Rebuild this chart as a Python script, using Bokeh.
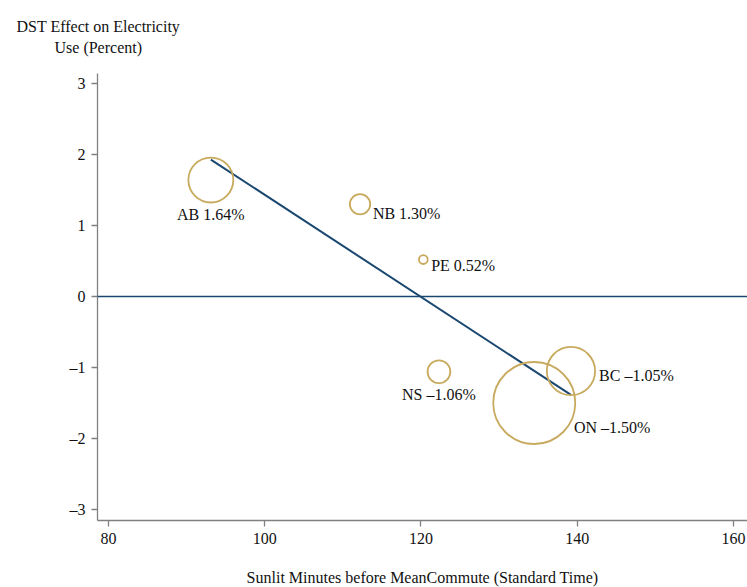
import numpy as np
from bokeh.plotting import figure
from bokeh.models import Range1d, Title, FixedTicker, ColumnDataSource, Span
from bokeh.core.properties import value
from bokeh.embed import file_html
from bokeh.resources import INLINE

# ---- data ----
provinces = ["AB", "NB", "PE", "NS", "BC", "ON"]
sunlit_minutes = [93.1, 112.2, 120.3, 122.3, 139.2, 134.5]
dst_effect = [1.64, 1.30, 0.52, -1.06, -1.05, -1.50]
weights = [3.9, 0.8, 0.15, 1.0, 4.5, 13.0]
label_clock = [6, 4, 4, 6, 3, 4]
x_ticks = [80, 100, 120, 140, 160]
y_ticks = [-3, -2, -1, 0, 1, 2, 3]

FONT = "Liberation Serif"
GOLD = "#c8aa5e"
NAVY = "#1a476f"
AXIS = "#808080"
TXT = "#111111"

w = np.array(weights)
radius_px = 41.0 * np.sqrt(w / w.max())
labels = [f"{p} {v:.2f}%".replace("-", "\u2013") for p, v in zip(provinces, dst_effect)]

dx, dy, align, base = [], [], [], []
for r, c in zip(radius_px, label_clock):
    if c == 6:
        dx.append(0); dy.append(r + 3); align.append("center"); base.append("top")
    elif c == 3:
        dx.append(r + 4); dy.append(4); align.append("left"); base.append("middle")
    else:
        dx.append(r * 0.87 + 4); dy.append(r * 0.5 + 4); align.append("left"); base.append("middle")

src = ColumnDataSource(dict(x=sunlit_minutes, y=dst_effect, size=2 * radius_px,
                            label=labels, dx=dx, dy=dy, align=align, base=base))

p = figure(frame_width=650, frame_height=447, output_backend="svg", toolbar_location=None,
           x_range=Range1d(78.59, 161.8), y_range=Range1d(-3.155, 3.141),
           min_border_left=97, min_border_right=0, min_border_top=73, min_border_bottom=67)
p.background_fill_color = "white"
p.border_fill_color = "white"
p.outline_line_color = None
p.xgrid.visible = False
p.ygrid.visible = False

# zero line
p.add_layout(Span(location=0, dimension="width", line_color=NAVY, line_width=1.6))

# fitted line (OLS on the points)
b, a = np.polyfit(sunlit_minutes, dst_effect, 1)
xs = np.array([min(sunlit_minutes), max(sunlit_minutes)])
p.line(xs, a + b * xs, line_color=NAVY, line_width=2)

p.scatter("x", "y", size="size", source=src, marker="circle", fill_color=None,
          line_color=GOLD, line_width=1.8)

p.text("x", "y", text="label", source=src, x_offset="dx", y_offset="dy",
       text_align="align", text_baseline="base", text_font=value(FONT),
       text_font_size="16px", text_color=TXT)

for ax in (p.xaxis[0], p.yaxis[0]):
    ax.axis_line_color = AXIS
    ax.axis_line_width = 1.3
    ax.major_tick_line_color = AXIS
    ax.major_tick_line_width = 1.3
    ax.major_tick_out = 6
    ax.major_tick_in = 0
    ax.minor_tick_line_color = None
    ax.major_label_text_font = FONT
    ax.major_label_text_font_size = "16px"
    ax.major_label_text_color = TXT
    ax.major_label_standoff = 6

p.xaxis.ticker = FixedTicker(ticks=x_ticks)
p.yaxis.ticker = FixedTicker(ticks=y_ticks)
p.yaxis.major_label_overrides = {t: str(t).replace("-", "\u2013") for t in y_ticks}
p.yaxis.major_label_orientation = "horizontal"

p.xaxis.axis_label = "Sunlit Minutes before MeanCommute (Standard Time)"
p.xaxis.axis_label_text_font = FONT
p.xaxis.axis_label_text_font_size = "16px"
p.xaxis.axis_label_text_font_style = "normal"
p.xaxis.axis_label_text_color = TXT
p.xaxis.axis_label_standoff = 22

# white (unseen) spacer between the frame and the two-line title
p.add_layout(Title(text=".", standoff=3, text_font=FONT, text_font_size="16px",
                   text_color="white"), "above")

# two-line horizontal y-axis title at the top left (later titles sit further up)
for txt, off, so in (("Use (Percent)", -43, 4),
                     ("DST Effect on Electricity", -81, 0)):
    p.add_layout(Title(text=txt, align="left", offset=off, standoff=so,
                       text_font=FONT, text_font_size="16px", text_font_style="normal",
                       text_color=TXT), "above")

open("out.html", "w").write(file_html(p, INLINE))
